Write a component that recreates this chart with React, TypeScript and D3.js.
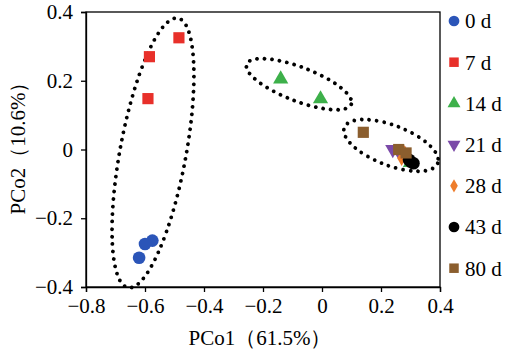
import { useEffect, useRef } from "react";
import * as d3 from "d3";

const groups = ["0 d", "7 d", "14 d", "21 d", "28 d", "43 d", "80 d"];
const colors = ["#2B55B8", "#E8302A", "#3DB04A", "#7B4AA8", "#EE7D2C", "#000000", "#8B5E2E"];
const shapes = ["circle", "square", "triangle", "down", "diamond", "circle", "square"];

const pco1 = [
  [-0.575, -0.6, -0.62],
  [-0.485, -0.585, -0.59],
  [-0.14, -0.005, 0.3],
  [0.24, 0.26, 0.275],
  [0.27, 0.29, 0.28],
  [0.3, 0.31, 0.295],
  [0.14, 0.26, 0.285],
];
const pco2 = [
  [-0.265, -0.275, -0.315],
  [0.325, 0.27, 0.148],
  [0.205, 0.147, -0.038],
  [0.0, -0.005, -0.015],
  [-0.025, -0.03, -0.01],
  [-0.035, -0.04, -0.03],
  [0.05, 0.0, -0.01],
];

const xTicks = [-0.8, -0.6, -0.4, -0.2, 0, 0.2, 0.4];
const yTicks = [-0.4, -0.2, 0, 0.2, 0.4];

// dotted ellipses: centre in data units, radii in px, tilt in degrees
const ellCx = [-0.573, -0.078, 0.234];
const ellCy = [-0.01, 0.19, 0.012];
const ellRx = [33, 56, 50];
const ellRy = [137, 17, 20];
const ellRot = [10.5, 21, 21];

const App = () => {
  const ref = useRef<SVGSVGElement>(null);

  useEffect(() => {
    const svg = d3.select(ref.current);
    svg.selectAll("*").remove();

    const left = 86, right = 440, top = 12, bottom = 287;
    const x = d3.scaleLinear().domain([-0.8, 0.4]).range([left, right]);
    const y = d3.scaleLinear().domain([-0.4, 0.4]).range([bottom, top]);
    const font = "'Liberation Serif', 'Times New Roman', serif";
    const fs = 21;

    svg.append("rect").attr("width", 513).attr("height", 359).attr("fill", "#fff");

    svg
      .append("rect")
      .attr("x", left)
      .attr("y", top)
      .attr("width", right - left)
      .attr("height", bottom - top)
      .attr("fill", "none")
      .attr("stroke", "#000")
      .attr("stroke-width", 1.3);

    const xAxis = svg
      .append("g")
      .attr("transform", `translate(0,${bottom})`)
      .call(d3.axisBottom(x).tickValues(xTicks).tickSize(5).tickFormat((d) => d3.format("")(+d)));
    const yAxis = svg
      .append("g")
      .attr("transform", `translate(${left},0)`)
      .call(d3.axisLeft(y).tickValues(yTicks).tickSize(5).tickFormat((d) => d3.format("")(+d)));

    [xAxis, yAxis].forEach((g) => {
      g.select(".domain").attr("stroke", "#000").attr("stroke-width", 1.3);
      g.selectAll(".tick line").attr("stroke", "#000").attr("stroke-width", 1.3);
      g.selectAll("text").attr("font-family", font).attr("font-size", fs).attr("fill", "#000");
    });
    xAxis.selectAll("text").attr("dy", "0.71em").attr("y", 11);
    yAxis.selectAll("text").attr("x", -13);

    // ellipses
    ellCx.forEach((cx, i) => {
      svg
        .append("ellipse")
        .attr("cx", 0)
        .attr("cy", 0)
        .attr("rx", ellRx[i])
        .attr("ry", ellRy[i])
        .attr("transform", `translate(${x(cx)},${y(ellCy[i])}) rotate(${ellRot[i]})`)
        .attr("fill", "none")
        .attr("stroke", "#000")
        .attr("stroke-width", 3.8)
        .attr("stroke-linecap", "round")
        .attr("stroke-dasharray", "0 7.5");
    });

    const symFor = (s: string) => {
      if (s === "circle") return d3.symbol(d3.symbolCircle, 125)();
      if (s === "square") return d3.symbol(d3.symbolSquare, 125)();
      if (s === "diamond") return d3.symbol(d3.symbolDiamond, 70)();
      return d3.symbol(d3.symbolTriangle, 100)();
    };

    groups.forEach((g, i) => {
      pco1[i].forEach((v, j) => {
        svg
          .append("path")
          .attr("d", symFor(shapes[i]))
          .attr(
            "transform",
            `translate(${x(v)},${y(pco2[i][j])})${shapes[i] === "down" ? " rotate(180)" : ""}`
          )
          .attr("fill", colors[i]);
      });
    });

    // legend
    groups.forEach((g, i) => {
      const ly = 21 + i * 41.2;
      svg
        .append("path")
        .attr("d", symFor(shapes[i]))
        .attr("transform", `translate(454,${ly})${shapes[i] === "down" ? " rotate(180)" : ""} scale(0.85)`)
        .attr("fill", colors[i]);
      svg
        .append("text")
        .attr("x", 465)
        .attr("y", ly)
        .attr("dy", "0.35em")
        .attr("font-family", font)
        .attr("font-size", fs)
        .text(g);
    });

    svg
      .append("text")
      .attr("x", 260)
      .attr("y", 345)
      .attr("text-anchor", "middle")
      .attr("font-family", font)
      .attr("font-size", fs)
      .text("PCo1（61.5%）");

    svg
      .append("text")
      .attr("transform", `translate(25,${143}) rotate(-90)`)
      .attr("text-anchor", "middle")
      .attr("font-family", font)
      .attr("font-size", fs)
      .text("PCo2（10.6%）");
  }, []);

  return (
    <svg
      ref={ref}
      width={513}
      height={359}
      style={{ position: "absolute", left: 0, top: 0 }}
    />
  );
};

export default App;
